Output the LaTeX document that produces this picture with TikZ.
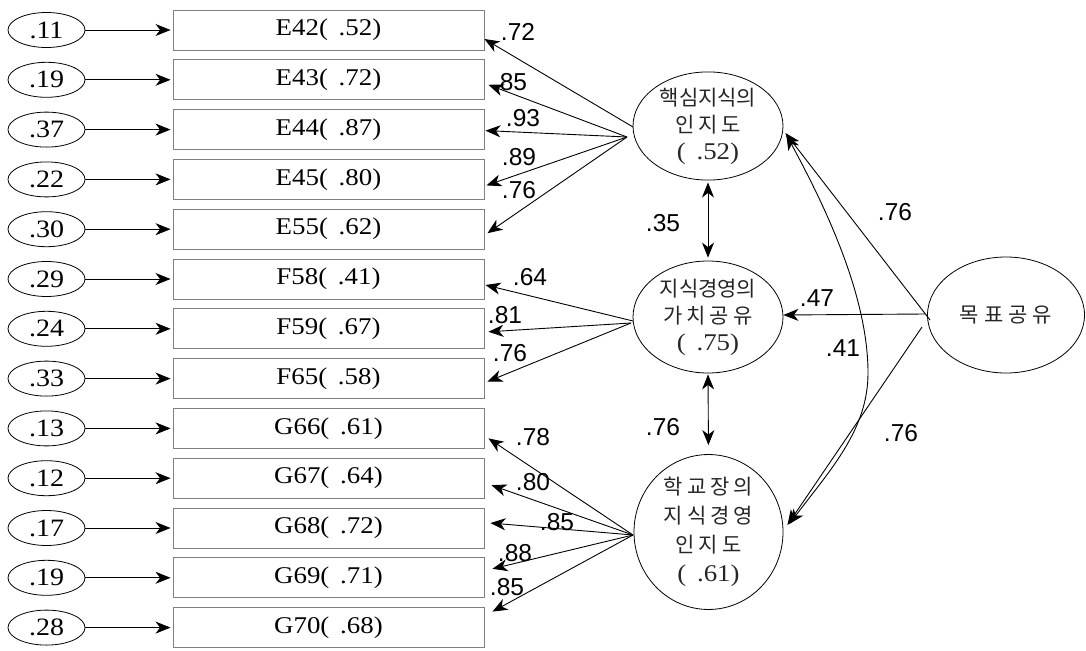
\documentclass[tikz,border=0pt]{standalone}
\usepackage{fontspec}
\setmainfont{Liberation Serif}[FakeStretch=1.12]
\newfontfamily\labfont{Liberation Sans}
\newfontfamily\krfont{Noto Sans CJK KR}
\usetikzlibrary{shapes.geometric,arrows.meta,calc}
% small gap between spaced Hangul syllables
\newcommand\gp{\hspace{4pt}}
% value in parentheses with the wide inner gap
\newcommand\pv[1]{(\hspace{0.45em}#1)}
\tikzset{
  x=1pt, y=-1pt,
  errnode/.style={ellipse, draw, line width=0.8pt, minimum width=77pt,
    minimum height=35pt, inner sep=0pt, font=\fontsize{25}{25}\selectfont},
  obsbox/.style={rectangle, draw=black!50, line width=0.9pt, minimum width=311pt,
    minimum height=40pt, inner sep=0pt, font=\fontsize{24}{24}\selectfont},
  latent/.style={ellipse, draw, line width=0.8pt, inner sep=0pt, align=center,
    text=black!85},
  arr/.style={line width=0.9pt, -{Stealth[length=15pt,width=12pt,inset=4.5pt]}},
  dbl/.style={line width=0.9pt, {Stealth[length=15pt,width=12pt,inset=4.5pt]}-{Stealth[length=15pt,width=12pt,inset=4.5pt]}},
  plab/.style={font=\labfont\fontsize{24.5}{24.5}\selectfont, inner sep=0pt},
}
\begin{document}
\begin{tikzpicture}
\useasboundingbox (0,0) rectangle (1086,650);

% indicators with their error terms
\foreach \i/\e/\v/\r in {0/.11/E42/.52, 1/.19/E43/.72, 2/.37/E44/.87, 3/.22/E45/.80,
  4/.30/E55/.62, 5/.29/F58/.41, 6/.24/F59/.67, 7/.33/F65/.58, 8/.13/G66/.61,
  9/.12/G67/.64, 10/.17/G68/.72, 11/.19/G69/.71, 12/.28/G70/.68} {
  \node[errnode] (err\i) at (46.5, {30+49.8*\i}) {\e};
  \node[obsbox] (obs\i) at (328.5, {30+49.8*\i}) {\v\pv{\r}};
  \draw[arr, shorten >=2pt] (err\i) -- (obs\i);
}

% latent factors
\node[latent, minimum width=150pt, minimum height=108pt,
  font=\krfont\fontsize{21}{27}\selectfont] (fA) at (708,126)
  {핵심지식의\\ 인\gp 지\gp 도\\ {\rmfamily\fontsize{24}{27}\selectfont\pv{.52}}};
\node[latent, minimum width=150pt, minimum height=112pt,
  font=\krfont\fontsize{21}{27}\selectfont] (fB) at (708,317)
  {지식경영의\\ 가\gp 치\gp 공\gp 유\\ {\rmfamily\fontsize{24}{27}\selectfont\pv{.75}}};
\node[latent, minimum width=149pt, minimum height=150pt,
  font=\krfont\fontsize{21}{29}\selectfont] (fC) at (708.5,532)
  {학\gp 교\gp 장\gp 의\\ 지\gp 식\gp 경\gp 영\\ 인\gp 지\gp 도\\ {\rmfamily\fontsize{24}{29}\selectfont\pv{.61}}};
\node[latent, minimum width=157pt, minimum height=116pt,
  font=\krfont\fontsize{21}{25}\selectfont] (goal) at (1006,315)
  {목\hspace{5pt}표\hspace{5pt}공\hspace{5pt}유};

% meeting points of the loading fans
\coordinate (hubA) at (627,137);
\coordinate (hubB) at (631,323);
\coordinate (hubC) at (633,535);
\coordinate (gA) at (930,320);
\coordinate (gB) at (925,314);
\coordinate (gC) at (922,327);

% loadings of the first factor
\draw[arr] (633,127) coordinate (fAw) -- ([shift={(0,9)}]obs0.east);
\draw[arr] (hubA) -- ([shift={(4,5)}]obs1.east);
\draw[arr] (hubA) -- ([shift={(1,1)}]obs2.east);
\draw[arr] (hubA) -- ([shift={(2,6)}]obs3.east);
\draw[arr] (hubA) -- ([shift={(3,4)}]obs4.east);
% loadings of the second factor
\draw[arr] (633,321) coordinate (fBw) -- ([shift={(1,6)}]obs5.east);
\draw[arr] (hubB) -- ([shift={(4,3)}]obs6.east);
\draw[arr] (hubB) -- ([shift={(3,3)}]obs7.east);
% loadings of the third factor
\draw[arr] (hubC) -- ([shift={(4,10)}]obs8.east);
\draw[arr] (hubC) -- ([shift={(7,7)}]obs9.east);
\draw[arr] (hubC) -- ([shift={(6,-5)}]obs10.east);
\draw[arr] (hubC) -- ([shift={(8,-9)}]obs11.east);
\draw[arr] (hubC) -- ([shift={(8,-16)}]obs12.east);

\node[plab] (lA1) at (518,32) {.72};
\node[plab] (lA2) at (510,82) {.85};
\node[plab] (lA3) at (523,118) {.93};
\node[plab] (lA4) at (519,157) {.89};
\node[plab] (lA5) at (519,190) {.76};
\node[plab] (lB1) at (530,277) {.64};
\node[plab] (lB2) at (505,315) {.81};
\node[plab] (lB3) at (510,353) {.76};
\node[plab] (lC1) at (533,437) {.78};
\node[plab] (lC2) at (533,482) {.80};
\node[plab] (lC3) at (557,522) {.85};
\node[plab] (lC4) at (515,553) {.88};
\node[plab] (lC5) at (507,587) {.85};

% correlations between neighbouring factors
\draw[dbl, shorten <=2pt, shorten >=3pt] (fA.south) -- (fB.north);
\draw[dbl, shorten <=1pt, shorten >=9pt] (fB.south) -- (fC.north);
\node[plab] (rAB) at (663,223) {.35};
\node[plab] (rBC) at (663,427) {.76};

% paths from the shared goal
\draw[arr] (gA) -- ([shift={(2,7)}]fA.east);
\draw[arr] (gB) -- ([shift={(0,-2)}]fB.east);
\draw[arr] (gC) -- ([shift={(4,-7)}]fC.east);
\node[plab] (gLA) at (895,212) {.76};
\node[plab] (gLB) at (817,298) {.47};
\node[plab] (gLC) at (901,433) {.76};

% curved correlation between the first and third factors
\draw[dbl] ([shift={(3,9)}]fA.east) .. controls (830,215) and (868,300) .. (868,373)
  .. controls (868,430) and (830,470) .. ([shift={(6,-8)}]fC.east);
\node[plab] (rAC) at (843,348) {.41};
\end{tikzpicture}
\end{document}
